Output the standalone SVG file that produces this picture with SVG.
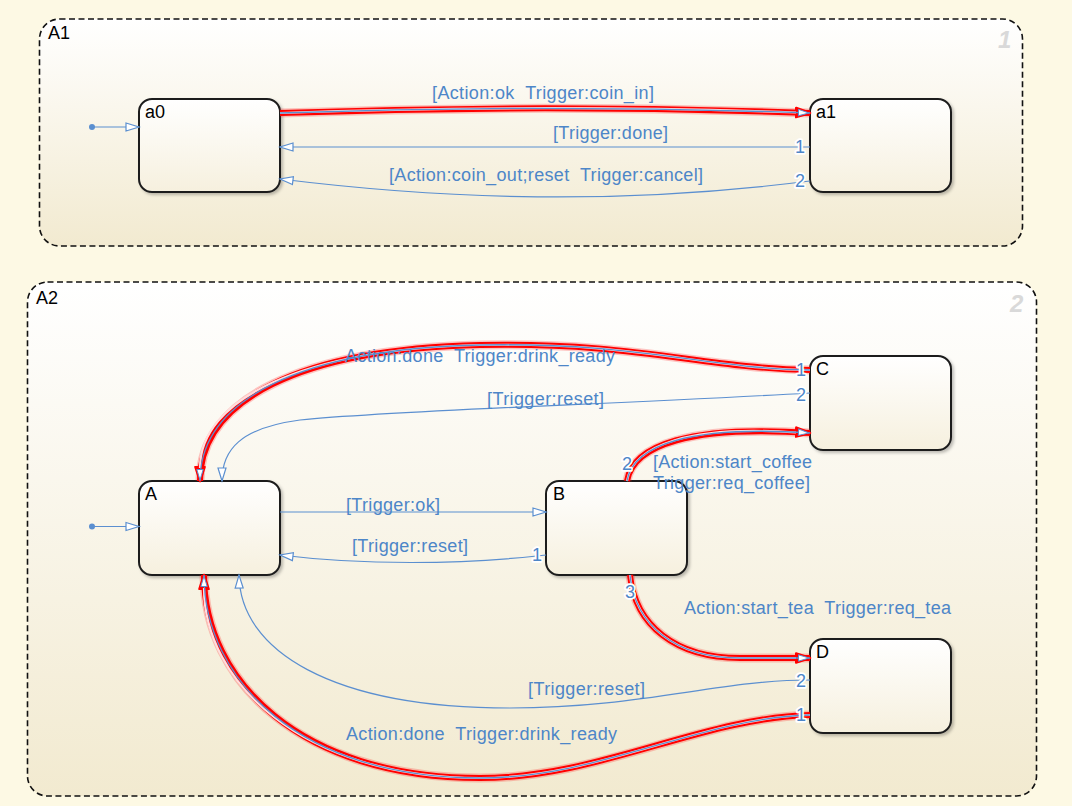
<svg xmlns="http://www.w3.org/2000/svg" width="1072" height="806" viewBox="0 0 1072 806">
<defs>
<style>
.lbl{font-family:"Liberation Sans",Arial,sans-serif;font-size:18px;fill:#4d86c8;white-space:pre}
.port{font-family:"Liberation Sans",Arial,sans-serif;font-size:18px;fill:#4d86c8;stroke:#ffffff;stroke-width:3.5;paint-order:stroke;stroke-linejoin:round}
.name{font-family:"Liberation Sans",Arial,sans-serif;font-size:18px;fill:#000}
.corner{font-family:"Liberation Sans",Arial,sans-serif;font-size:24px;font-weight:bold;font-style:italic;fill:#d9d9d9}
.box{fill:url(#gBox);stroke:#1e1e1e;stroke-width:2;filter:url(#sh)}
.cont{fill:url(#gCont);stroke:#111;stroke-width:1.6;stroke-dasharray:6 3.5}
.tb{fill:none;stroke:#5b8fd0;stroke-width:1.2}
.rg{fill:none;stroke:#ff2020;stroke-opacity:0.25;stroke-width:9}
.rr{fill:none;stroke:#ff0000;stroke-width:6}
.rw{fill:none;stroke:#ffdede;stroke-width:2.2}
.rb{fill:none;stroke:#5b8fd0;stroke-width:1.3}
</style>
<linearGradient id="gCont" x1="0" y1="0" x2="0" y2="1">
<stop offset="0" stop-color="#ffffff"/>
<stop offset="1" stop-color="#f2ead0"/>
</linearGradient>
<linearGradient id="gBox" x1="0" y1="0" x2="0" y2="1">
<stop offset="0" stop-color="#ffffff"/>
<stop offset="1" stop-color="#f6f0de"/>
</linearGradient>
<filter id="sh" x="-10%" y="-10%" width="130%" height="130%">
<feDropShadow dx="2" dy="2" stdDeviation="1.8" flood-color="#000" flood-opacity="0.25"/>
</filter>
<marker id="ab" markerUnits="userSpaceOnUse" markerWidth="18" markerHeight="12" refX="14" refY="6" orient="auto">
<path d="M1,2 L14,6 L1,10 Z" fill="#ffffff" stroke="#5b8fd0" stroke-width="1.2"/>
</marker>
<marker id="ar" markerUnits="userSpaceOnUse" markerWidth="20" markerHeight="14" refX="15" refY="7" orient="auto">
<path d="M1,2.5 L15,7 L1,11.5 Z" fill="#ff0000" stroke="#ff0000" stroke-width="2.5" stroke-linejoin="round"/>
</marker>
<marker id="ari" markerUnits="userSpaceOnUse" markerWidth="20" markerHeight="14" refX="14" refY="7" orient="auto">
<path d="M2.5,3.8 L13,7 L2.5,10.2 Z" fill="#ffffff" stroke="#5b8fd0" stroke-width="1"/>
</marker>
</defs>
<rect width="1072" height="806" fill="#fdf9e4"/>

<g id="A1">
<rect class="cont" x="39.5" y="19" width="983" height="227" rx="20"/>
<text class="name" x="48" y="39">A1</text>
<text class="corner" x="998" y="48">1</text>
</g>
<g id="A2">
<rect class="cont" x="27.5" y="282" width="1009" height="514" rx="20"/>
<text class="name" x="36" y="304">A2</text>
<text class="corner" x="1010" y="312">2</text>
</g>

<g id="a0"><rect class="box" x="139" y="99" width="141" height="93" rx="13"/><text class="name" x="145" y="118">a0</text></g>
<g id="a1"><rect class="box" x="810" y="99" width="141" height="93" rx="13"/><text class="name" x="816" y="118">a1</text></g>
<g id="A"><rect class="box" x="139" y="481" width="141" height="94" rx="13"/><text class="name" x="145" y="500">A</text></g>
<g id="B"><rect class="box" x="546" y="481" width="141" height="94" rx="13"/><text class="name" x="553" y="500">B</text></g>
<g id="C"><rect class="box" x="810" y="356" width="141" height="94" rx="13"/><text class="name" x="816" y="375">C</text></g>
<g id="D"><rect class="box" x="810" y="639" width="141" height="94" rx="13"/><text class="name" x="816" y="658">D</text></g>

<g id="connectors">
<circle cx="92" cy="127" r="3" fill="#5b8fd0"/>
<path class="tb" d="M92,127 L139,127" marker-end="url(#ab)"/>
<circle cx="92" cy="526.5" r="3" fill="#5b8fd0"/>
<path class="tb" d="M92,526.5 L139,526.5" marker-end="url(#ab)"/>

<g>
<path class="rg" d="M280,113 C450,107 640,107 810,113"/>
<path class="rr" d="M280,113 C450,107 640,107 810,113" marker-end="url(#ar)"/>
<path class="rw" d="M280,113 C450,107 640,107 796,112.5"/>
<path class="rb" d="M280,113 C450,107 640,107 810,113" marker-end="url(#ari)"/>
</g>
<path class="tb" d="M810,147 L280,147" marker-end="url(#ab)"/>
<path class="tb" d="M810,181 C620,205 450,200 280,179" marker-end="url(#ab)"/>

<g>
<path class="rg" d="M810,370 C700,368 640,342 480,345 C300,349 200,400 200,481"/>
<path class="rr" d="M810,370 C700,368 640,342 480,345 C300,349 200,400 200,481" marker-end="url(#ar)"/>
<path class="rw" d="M810,370 C700,368 640,342 480,345 C300,349 200,400 200,468"/>
<path class="rb" d="M810,370 C700,368 640,342 480,345 C300,349 200,400 200,481" marker-end="url(#ari)"/>
</g>
<path class="tb" d="M810,393 C600,405 400,410 300,420 C240,428 222,450 222,481" marker-end="url(#ab)"/>

<path class="tb" d="M280,512 L546,512" marker-end="url(#ab)"/>
<path class="tb" d="M546,555 C460,565 360,565 280,555" marker-end="url(#ab)"/>

<g>
<path class="rg" d="M627,481 C633,445 690,425 810,433"/>
<path class="rr" d="M627,481 C633,445 690,425 810,433" marker-end="url(#ar)"/>
<path class="rw" d="M627,481 C633,445 690,425 796,432.5"/>
<path class="rb" d="M627,481 C633,445 690,425 810,433" marker-end="url(#ari)"/>
</g>
<g>
<path class="rg" d="M630,575 C635,625 675,658 740,658 L810,658"/>
<path class="rr" d="M630,575 C635,625 675,658 740,658 L810,658" marker-end="url(#ar)"/>
<path class="rw" d="M630,575 C635,625 675,658 740,658 L796,658"/>
<path class="rb" d="M630,575 C635,625 675,658 740,658 L810,658" marker-end="url(#ari)"/>
</g>
<path class="tb" d="M810,680 C720,680 640,708 510,708 C330,708 240,650 239,575" marker-end="url(#ab)"/>
<g>
<path class="rg" d="M810,715 C700,718 600,778 480,778 C300,778 204,680 204,575"/>
<path class="rr" d="M810,715 C700,718 600,778 480,778 C300,778 204,680 204,575" marker-end="url(#ar)"/>
<path class="rw" d="M810,715 C700,718 600,778 480,778 C300,778 204,680 204,588"/>
<path class="rb" d="M810,715 C700,718 600,778 480,778 C300,778 204,680 204,575" marker-end="url(#ari)"/>
</g>

<text class="lbl" x="432" y="99" textLength="222" xml:space="preserve">[Action:ok  Trigger:coin_in]</text>
<text class="lbl" x="553" y="139" textLength="115">[Trigger:done]</text>
<text class="lbl" x="389" y="181" textLength="314" xml:space="preserve">[Action:coin_out;reset  Trigger:cancel]</text>
<text class="lbl" x="345" y="362" textLength="270" xml:space="preserve">Action:done  Trigger:drink_ready</text>
<text class="lbl" x="487" y="405" textLength="117">[Trigger:reset]</text>
<text class="lbl" x="346" y="511" textLength="94">[Trigger:ok]</text>
<text class="lbl" x="352" y="552" textLength="116">[Trigger:reset]</text>
<text class="lbl" x="653" y="468" textLength="159">[Action:start_coffee</text>
<text class="lbl" x="653" y="489" textLength="157">Trigger:req_coffee]</text>
<text class="lbl" x="684" y="614" textLength="267" xml:space="preserve">Action:start_tea  Trigger:req_tea</text>
<text class="lbl" x="528" y="695" textLength="117">[Trigger:reset]</text>
<text class="lbl" x="346" y="740" textLength="271" xml:space="preserve">Action:done  Trigger:drink_ready</text>

<text class="port" x="805" y="153" text-anchor="end">1</text>
<text class="port" x="805" y="187" text-anchor="end">2</text>
<text class="port" x="806" y="376" text-anchor="end">1</text>
<text class="port" x="806" y="401" text-anchor="end">2</text>
<text class="port" x="806" y="687" text-anchor="end">2</text>
<text class="port" x="806" y="721" text-anchor="end">1</text>
<text class="port" x="542" y="561" text-anchor="end">1</text>
<text class="port" x="632" y="470" text-anchor="end">2</text>
<text class="port" x="635" y="598" text-anchor="end">3</text>
</g>
</svg>
